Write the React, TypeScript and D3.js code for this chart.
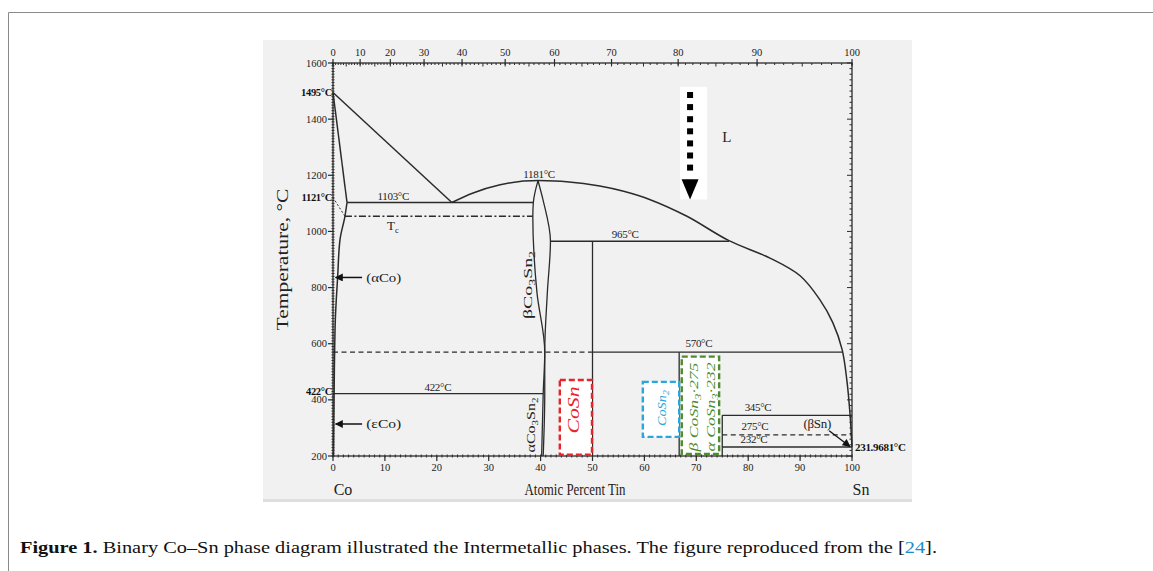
import React, { useEffect, useRef } from 'react';
import * as d3 from 'd3';

// tick labels
const topTicks = [0, 10, 20, 30, 40, 50, 60, 70, 80, 90, 100]; // weight percent Sn
const bottomTicks = [0, 10, 20, 30, 40, 50, 60, 70, 80, 90, 100]; // atomic percent Sn
const tempTicks = [200, 400, 600, 800, 1000, 1200, 1400, 1600];

// phase boundaries, [atomic % Sn, °C]
const liquidusCo: [number, number][] = [[0, 1495], [22.9, 1103]];
const solidusCo: [number, number][] = [[0, 1495], [2.7, 1103]];
const solvusCo: [number, number][] = [[2.7, 1103], [2.3, 1054], [1.35, 971], [0.9, 839], [0.45, 686], [0.2, 400], [0.1, 200]];
const liquidusMid: [number, number][] = [[22.9, 1103], [27, 1137], [32.2, 1166], [36, 1178], [39.5, 1181]];
const liquidusSn: [number, number][] = [[39.5, 1181], [45, 1177], [51.4, 1162], [56, 1143], [61, 1114], [68.2, 1054], [76.3, 967], [84.2, 905], [90, 842], [93.8, 757], [96.3, 675], [98.1, 579], [99, 471], [99.6, 354], [100, 232]];
const co3sn2Left: [number, number][] = [[39.5, 1181], [38.6, 1103], [38.5, 1054], [39.3, 782], [40.8, 571], [40.5, 422], [40.2, 200]];
const co3sn2Right: [number, number][] = [[39.5, 1181], [40.5, 1110], [41.9, 965], [41.3, 782], [40.8, 571], [40.8, 422], [40.5, 200]];

// straight lines [x1, T1, x2, T2]
const solidLines = [
  [2.7, 1103, 38.6, 1103],
  [0, 422, 40.5, 422],
  [41.9, 965, 76.3, 965],
  [50, 965, 50, 200],
  [50, 570, 98.1, 570],
  [66.7, 570, 66.7, 200],
  [75, 345, 75, 200],
  [75, 345, 100, 345],
  [75, 232, 100, 232],
];
const dashedLines = [
  [0, 570, 50, 570],
  [75, 275, 100, 275],
];
const curieLine = [2.3, 1054, 38.5, 1054];
const magneticLine = [0, 1121, 2.3, 1054];

// temperature annotations [text, at%, °C]
const tempLabels: [string, number, number][] = [
  ['1103°C', 11.6, 1112],
  ['1181°C', 39.7, 1192],
  ['965°C', 56.3, 978],
  ['422°C', 20.2, 432],
  ['570°C', 70.5, 588],
  ['345°C', 81.9, 360],
  ['275°C', 81.3, 292],
  ['232°C', 81.1, 246],
  ['(βSn)', 93.3, 300],
];
const axisTempLabels: [string, number][] = [['1495°C', 1495], ['1121°C', 1121], ['422°C', 422]];

// dashed phase boxes [x1, x2, Tlow, Thigh]
const boxCoSn = [43.7, 49.9, 205, 471];
const boxCoSn2 = [59.7, 66.7, 268, 464];
const boxCoSn3 = [67.2, 74.4, 207, 554];

const atFromWt = (w: number) => {
  const a = w / 118.71;
  const b = (100 - w) / 58.93;
  return (a / (a + b)) * 100;
};

const App = () => {
  const svgRef = useRef<SVGSVGElement>(null);

  useEffect(() => {
    const svg = d3.select(svgRef.current);
    svg.selectAll('*').remove();

    const x = d3.scaleLinear().domain([0, 100]).range([333, 852]);
    const y = d3.scaleLinear().domain([200, 1600]).range([456, 63]);
    const font = "'Liberation Serif', 'Times New Roman', serif";
    const ink = '#2b2b2b';

    const defs = svg.append('defs');
    defs.append('marker')
      .attr('id', 'ah')
      .attr('viewBox', '0 0 10 10')
      .attr('refX', 9).attr('refY', 5)
      .attr('markerWidth', 9).attr('markerHeight', 8)
      .attr('markerUnits', 'userSpaceOnUse')
      .attr('orient', 'auto')
      .append('path').attr('d', 'M0,0L10,5L0,10Z').attr('fill', '#111');

    // page frame
    svg.append('rect').attr('width', 1153).attr('height', 571).attr('fill', '#fff');
    svg.append('path').attr('d', 'M8.5,571V12.5H1153').attr('fill', 'none').attr('stroke', '#8a8a8a').attr('stroke-width', 1);

    // image panel
    svg.append('rect').attr('x', 263).attr('y', 40).attr('width', 649).attr('height', 460).attr('fill', '#f1f1f1');
    svg.append('rect').attr('x', 263).attr('y', 499).attr('width', 649).attr('height', 3).attr('fill', '#dedede');

    const g = svg.append('g');

    // rotate a label and stretch it along its length to the given size
    const fitRotated = (sel: any, cx: number, cy: number, len: number) => {
      const w = (sel.node() as SVGTextElement).getComputedTextLength() || len;
      sel.attr('transform', `translate(${cx},${cy}) rotate(-90) scale(${len / w},1)`);
    };

    // axes frame
    g.append('rect')
      .attr('x', x(0)).attr('y', y(1600))
      .attr('width', x(100) - x(0)).attr('height', y(200) - y(1600))
      .attr('fill', 'none').attr('stroke', ink).attr('stroke-width', 1.3);

    // left axis ticks
    d3.range(200, 1601, 10).forEach(t => {
      g.append('line').attr('x1', x(0) - 1.5).attr('x2', x(0) + 1.5).attr('y1', y(t)).attr('y2', y(t))
        .attr('stroke', ink).attr('stroke-width', 1);
    });
    tempTicks.forEach(t => {
      g.append('line').attr('x1', x(0) - 5).attr('x2', x(0)).attr('y1', y(t)).attr('y2', y(t))
        .attr('stroke', ink).attr('stroke-width', 1.2);
      g.append('text').attr('x', x(0) - 6).attr('y', y(t) + 3.5)
        .attr('text-anchor', 'end').attr('font-family', font).attr('font-size', 10.5).attr('fill', '#222')
        .text(t);
    });
    // right axis ticks
    d3.range(200, 1601, 20).forEach(t => {
      const len = t % 200 === 0 ? 5 : 2.5;
      g.append('line').attr('x1', x(100) - len).attr('x2', x(100)).attr('y1', y(t)).attr('y2', y(t))
        .attr('stroke', ink).attr('stroke-width', 1);
    });
    // bottom axis ticks
    d3.range(0, 101, 1).forEach(a => {
      g.append('line').attr('x1', x(a)).attr('x2', x(a)).attr('y1', y(200) - 1.5).attr('y2', y(200) + 1.5)
        .attr('stroke', ink).attr('stroke-width', 1);
    });
    bottomTicks.forEach(a => {
      g.append('line').attr('x1', x(a)).attr('x2', x(a)).attr('y1', y(200)).attr('y2', y(200) + 5)
        .attr('stroke', ink).attr('stroke-width', 1.2);
      g.append('text').attr('x', x(a)).attr('y', y(200) + 15)
        .attr('text-anchor', 'middle').attr('font-family', font).attr('font-size', 10.5).attr('fill', '#222')
        .text(a);
    });
    // top axis ticks (weight percent)
    d3.range(0, 101, 1).forEach(w => {
      const len = w % 5 === 0 ? 3.5 : 2;
      g.append('line').attr('x1', x(atFromWt(w))).attr('x2', x(atFromWt(w)))
        .attr('y1', y(1600)).attr('y2', y(1600) + len)
        .attr('stroke', ink).attr('stroke-width', 1);
    });
    topTicks.forEach(w => {
      g.append('line').attr('x1', x(atFromWt(w))).attr('x2', x(atFromWt(w)))
        .attr('y1', y(1600) - 4).attr('y2', y(1600) + 2)
        .attr('stroke', ink).attr('stroke-width', 1.2);
      g.append('text').attr('x', x(atFromWt(w))).attr('y', y(1600) - 7)
        .attr('text-anchor', 'middle').attr('font-family', font).attr('font-size', 10.5).attr('fill', '#222')
        .text(w);
    });

    // curves
    const lineX = d3.line<[number, number]>().x(d => x(d[0])).y(d => y(d[1])).curve(d3.curveMonotoneX);
    const lineY = d3.line<[number, number]>().x(d => x(d[0])).y(d => y(d[1])).curve(d3.curveMonotoneY);
    const smooth = d3.line<[number, number]>().x(d => x(d[0])).y(d => y(d[1])).curve(d3.curveCatmullRom.alpha(0.5));
    const straight = d3.line<[number, number]>().x(d => x(d[0])).y(d => y(d[1]));
    const drawPath = (d: string | null, w = 1.5) =>
      g.append('path').attr('d', d).attr('fill', 'none').attr('stroke', ink).attr('stroke-width', w);

    drawPath(straight(liquidusCo));
    drawPath(straight(solidusCo));
    drawPath(lineY(solvusCo));
    drawPath(lineX(liquidusMid));
    drawPath(smooth(liquidusSn));
    drawPath(lineY(co3sn2Left), 1.3);
    drawPath(lineY(co3sn2Right), 1.3);

    solidLines.forEach(([a1, t1, a2, t2]) => {
      g.append('line').attr('x1', x(a1)).attr('y1', y(t1)).attr('x2', x(a2)).attr('y2', y(t2))
        .attr('stroke', ink).attr('stroke-width', 1.3);
    });
    dashedLines.forEach(([a1, t1, a2, t2]) => {
      g.append('line').attr('x1', x(a1)).attr('y1', y(t1)).attr('x2', x(a2)).attr('y2', y(t2))
        .attr('stroke', ink).attr('stroke-width', 1.3).attr('stroke-dasharray', '5,3.5');
    });
    g.append('line').attr('x1', x(curieLine[0])).attr('y1', y(curieLine[1])).attr('x2', x(curieLine[2])).attr('y2', y(curieLine[3]))
      .attr('stroke', ink).attr('stroke-width', 1.3).attr('stroke-dasharray', '7,2.5,2,2.5');
    g.append('line').attr('x1', x(magneticLine[0])).attr('y1', y(magneticLine[1])).attr('x2', x(magneticLine[2])).attr('y2', y(magneticLine[3]))
      .attr('stroke', ink).attr('stroke-width', 1).attr('stroke-dasharray', '2,2');

    // temperature annotations
    tempLabels.forEach(([txt, a, t]) => {
      g.append('text').attr('x', x(a)).attr('y', y(t))
        .attr('text-anchor', 'middle').attr('font-family', font)
        .attr('font-size', txt.startsWith('(') ? 13 : 11).attr('fill', '#222').attr('letter-spacing', -0.3)
        .text(txt);
    });
    axisTempLabels.forEach(([txt, t]) => {
      g.append('text').attr('x', x(0) - 1).attr('y', y(t) + (t === 422 ? 1 : 4))
        .attr('text-anchor', 'end').attr('font-family', font).attr('font-size', 10.5)
        .attr('font-weight', 'bold').attr('fill', '#111').attr('letter-spacing', -0.3)
        .text(txt);
    });
    g.append('text').attr('x', x(100) + 3).attr('y', y(232) + 4)
      .attr('font-family', font).attr('font-size', 11).attr('font-weight', 'bold').attr('fill', '#111')
      .attr('letter-spacing', -0.3)
      .text('231.9681°C');

    // T_c
    const tc = g.append('text').attr('x', x(10.4)).attr('y', y(1006))
      .attr('font-family', font).attr('font-size', 13).attr('fill', '#222');
    tc.append('tspan').text('T');
    tc.append('tspan').attr('font-size', 8.5).attr('dy', 3).text('c');

    // phase arrows
    [['(αCo)', 836], ['(εCo)', 314]].forEach(([txt, t]) => {
      g.append('line').attr('x1', x(5.6)).attr('y1', y(t as number)).attr('x2', x(0.5)).attr('y2', y(t as number))
        .attr('stroke', '#111').attr('stroke-width', 1.5).attr('marker-end', 'url(#ah)');
      g.append('text').attr('x', x(6.4)).attr('y', y(t as number) + 4.5)
        .attr('font-family', font).attr('font-size', 13.5).attr('fill', '#222')
        .attr('textLength', 35).attr('lengthAdjust', 'spacingAndGlyphs')
        .text(txt as string);
    });
    g.append('line').attr('x1', x(95.6)).attr('y1', y(290)).attr('x2', x(99.6)).attr('y2', y(234))
      .attr('stroke', '#111').attr('stroke-width', 1.3).attr('marker-end', 'url(#ah)');

    // rotated Co3Sn2 labels
    const rotLabel = (cx: number, cy: number, prefix: string, len: number) => {
      const t = g.append('text')
        .attr('text-anchor', 'middle').attr('font-family', font).attr('font-size', 13).attr('fill', '#222');
      t.append('tspan').text(prefix + 'Co');
      t.append('tspan').attr('font-size', 9).attr('dy', 3).text('3');
      t.append('tspan').attr('dy', -3).text('Sn');
      t.append('tspan').attr('font-size', 9).attr('dy', 3).text('2');
      fitRotated(t, cx, cy, len);
    };
    rotLabel(532, 285, 'β', 68);
    rotLabel(535, 425, 'α', 55);

    // L region arrow
    const ax = x(68.8);
    g.append('rect').attr('x', ax - 10).attr('y', y(1515)).attr('width', 27).attr('height', y(1114) - y(1515))
      .attr('fill', '#fff');
    d3.range(7).forEach(i => {
      const cy = y(1486) + i * 12.1;
      g.append('rect').attr('x', ax - 3).attr('y', cy - 3).attr('width', 6).attr('height', 6).attr('fill', '#000');
    });
    g.append('path')
      .attr('d', `M${ax - 8.5},${y(1186)}L${ax + 8.5},${y(1186)}L${ax},${y(1114)}Z`)
      .attr('fill', '#000');
    g.append('text').attr('x', x(75.9)).attr('y', y(1320))
      .attr('text-anchor', 'middle').attr('font-family', font).attr('font-size', 15).attr('fill', '#222').text('L');

    // dashed phase boxes
    const box = (b: number[], color: string) =>
      g.append('rect').attr('x', x(b[0])).attr('y', y(b[3]))
        .attr('width', x(b[1]) - x(b[0])).attr('height', y(b[2]) - y(b[3]))
        .attr('fill', '#fff').attr('stroke', color).attr('stroke-width', 2.4).attr('stroke-dasharray', '6,3');
    box(boxCoSn, '#e8242a');
    box(boxCoSn2, '#2aa6de');
    box(boxCoSn3, '#4f8b2f');

    const mathFont = "'Liberation Serif', serif";
    const cosn = g.append('text')
      .attr('text-anchor', 'middle').attr('font-family', mathFont).attr('font-style', 'italic')
      .attr('font-size', 16).attr('fill', '#e8242a')
      .text('CoSn');
    fitRotated(cosn, 579, 410, 47);

    const cosn2 = g.append('text')
      .attr('text-anchor', 'middle').attr('font-family', mathFont).attr('font-style', 'italic')
      .attr('font-size', 12.5).attr('fill', '#2aa6de');
    cosn2.append('tspan').text('CoSn');
    cosn2.append('tspan').attr('font-size', 9).attr('dy', 3).text('2');
    fitRotated(cosn2, 666, 408, 36);

    [['β', '275', 698], ['α', '232', 715]].forEach(([greek, temp, tx]) => {
      const t = g.append('text')
        .attr('text-anchor', 'middle').attr('font-family', mathFont).attr('font-style', 'italic')
        .attr('font-size', 12.5).attr('fill', '#4f8b2f');
      t.append('tspan').text(`${greek} CoSn`);
      t.append('tspan').attr('font-size', 9).attr('dy', 3).text('3');
      t.append('tspan').attr('dy', -3).text(`·${temp}`);
      fitRotated(t, tx as number, 407, 89);
    });

    // axis titles
    const ylab = g.append('text')
      .attr('text-anchor', 'middle').attr('font-family', font).attr('font-size', 16).attr('fill', '#222')
      .text('Temperature, °C');
    fitRotated(ylab, 288, y(900), 142);
    g.append('text').attr('x', 343).attr('y', 495)
      .attr('text-anchor', 'middle').attr('font-family', font).attr('font-size', 16).attr('fill', '#222').text('Co');
    g.append('text').attr('x', 575).attr('y', 495)
      .attr('text-anchor', 'middle').attr('font-family', font).attr('font-size', 16).attr('fill', '#222')
      .attr('textLength', 101).attr('lengthAdjust', 'spacingAndGlyphs')
      .text('Atomic Percent Tin');
    g.append('text').attr('x', 861).attr('y', 495)
      .attr('text-anchor', 'middle').attr('font-family', font).attr('font-size', 16).attr('fill', '#222').text('Sn');

    // caption
    const cap = svg.append('text').attr('x', 20).attr('y', 553)
      .attr('font-family', font).attr('font-size', 17).attr('fill', '#111')
      .attr('textLength', 917).attr('lengthAdjust', 'spacingAndGlyphs');
    cap.append('tspan').attr('font-weight', 'bold').text('Figure 1.');
    cap.append('tspan').text(' Binary Co–Sn phase diagram illustrated the Intermetallic phases. The figure reproduced from the [');
    cap.append('tspan').attr('fill', '#1f8bc6').text('24');
    cap.append('tspan').text('].');
  }, []);

  return (
    <svg ref={svgRef} width={1153} height={571} style={{ position: 'absolute', left: 0, top: 0 }}></svg>
  );
};

export default App;
